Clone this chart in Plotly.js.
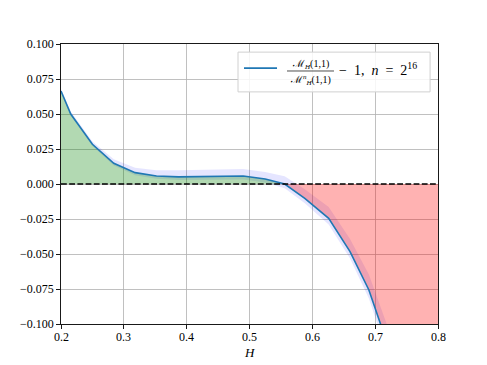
<!DOCTYPE html>
<html>
<head>
<meta charset="utf-8">
<script src="https://cdn.plot.ly/plotly-3.0.1.min.js"></script>
<style>
  html, body { margin: 0; padding: 0; background: #fff; }
  #plot { width: 487px; height: 365px; }
</style>
</head>
<body>
<div id="plot"></div>
<script>
// values
var H      = [0.2, 0.2155, 0.25, 0.284, 0.318, 0.352, 0.387, 0.421, 0.456, 0.49, 0.525, 0.556, 0.588, 0.626, 0.66, 0.69, 0.72, 0.76, 0.8];
var ratio  = [0.0664, 0.050, 0.0284, 0.0148, 0.0081, 0.0057, 0.0051, 0.0053, 0.0057, 0.0057, 0.0036, 0.0, -0.0102, -0.0245, -0.0483, -0.0757, -0.115, -0.17, -0.24];
var bandUp = [0.0015, 0.0018, 0.002, 0.0028, 0.0035, 0.0042, 0.0048, 0.005, 0.005, 0.005, 0.005, 0.0055, 0.0065, 0.008, 0.009, 0.011, 0.013, 0.016, 0.02];
var bandDn = [0.001, 0.001, 0.0012, 0.0015, 0.0018, 0.002, 0.0022, 0.0024, 0.0025, 0.0025, 0.0025, 0.003, 0.0035, 0.0045, 0.005, 0.006, 0.007, 0.009, 0.012];
var xTicks = [0.2, 0.3, 0.4, 0.5, 0.6, 0.7, 0.8];
var yTicks = [-0.1, -0.075, -0.05, -0.025, 0, 0.025, 0.05, 0.075, 0.1];

var serif = "Liberation Serif";

function initPlot(plot_element) {
	var lower = H.map(function (h, i) { return ratio[i] - bandDn[i]; });
	var upper = H.map(function (h, i) { return ratio[i] + bandUp[i]; });
	var pos = ratio.map(function (v) { return Math.max(v, 0); });
	var neg = ratio.map(function (v) { return Math.min(v, 0); });

	var traces = [
		{ x: H, y: lower, mode: 'lines', line: { width: 0, color: 'rgba(0,0,0,0)' }, showlegend: false, hoverinfo: 'skip' },
		{ x: H, y: upper, mode: 'lines', fill: 'tonexty', fillcolor: 'rgba(0,0,255,0.1)',
		  line: { width: 0, color: 'rgba(0,0,0,0)' }, showlegend: false, hoverinfo: 'skip' },
		// green where the curve is above zero, red where below
		{ x: H, y: pos, mode: 'lines', fill: 'tozeroy', fillcolor: 'rgba(0,128,0,0.3)',
		  line: { width: 0, color: 'rgba(0,0,0,0)' }, showlegend: false },
		{ x: H, y: neg, mode: 'lines', fill: 'tozeroy', fillcolor: 'rgba(255,0,0,0.3)',
		  line: { width: 0, color: 'rgba(0,0,0,0)' }, showlegend: false },
		{ x: H, y: ratio, mode: 'lines', line: { color: '#1f77b4', width: 1.6 }, showlegend: false },
		// dashed zero line
		{ x: [xTicks[0], xTicks[xTicks.length - 1]], y: [0, 0], mode: 'lines',
		  line: { color: '#000', width: 1.6, dash: '5.8px,2.4px' }, showlegend: false }
	];

	var axisCommon = {
		showline: true, linecolor: '#000', linewidth: 0.9, mirror: true,
		ticks: 'outside', ticklen: 4, tickwidth: 0.9, tickcolor: '#000',
		showgrid: true, gridcolor: '#b0b0b0', gridwidth: 0.8,
		zeroline: false,
		tickfont: { family: serif, size: 12, color: '#000' }
	};

	// hand-made legend box (stacked fraction is not possible in a plain legend entry)
	var shapes = [
		{ type: 'rect', xref: 'paper', yref: 'paper', x0: 0.4695, x1: 0.979, y0: 0.829, y1: 0.971,
		  line: { color: '#d0d0d0', width: 1 }, fillcolor: 'rgba(255,255,255,0.85)', layer: 'above' },
		{ type: 'line', xref: 'paper', yref: 'paper', x0: 0.4854, x1: 0.573, y0: 0.914, y1: 0.914,
		  line: { color: '#1f77b4', width: 1.6 }, layer: 'above' },
		{ type: 'line', xref: 'paper', yref: 'paper', x0: 0.5995, x1: 0.7241, y0: 0.9036, y1: 0.9036,
		  line: { color: '#000', width: 0.7 }, layer: 'above' }
	];

	var annotations = [
		{ xref: 'paper', yref: 'paper', x: 0.6618, y: 0.928, xanchor: 'center', yanchor: 'middle', showarrow: false,
		  text: 'ℳ<sub><i>H</i></sub>(1,1)', font: { family: serif, size: 10, color: '#000' } },
		{ xref: 'paper', yref: 'paper', x: 0.6618, y: 0.871, xanchor: 'center', yanchor: 'middle', showarrow: false,
		  text: 'ℳ<sup><i>n</i></sup><sub><i>H</i></sub>(1,1)', font: { family: serif, size: 10, color: '#000' } },
		{ xref: 'paper', yref: 'paper', x: 0.732, y: 0.909, xanchor: 'left', yanchor: 'middle', showarrow: false,
		  text: '−&nbsp;&nbsp;1,&nbsp;&nbsp;<i>n</i>&nbsp;&nbsp;=&nbsp;&nbsp;2<sup>16</sup>', font: { family: serif, size: 14, color: '#000' } },
		// x axis title
		{ xref: 'paper', yref: 'paper', x: 0.5, y: -0.1, xanchor: 'center', yanchor: 'middle', showarrow: false,
		  text: '<i>H</i>', font: { family: serif, size: 13, color: '#000' } }
	];

	// x tick labels, set a little closer to the axis than plotly puts them
	xTicks.forEach(function (t) {
		annotations.push({ xref: 'x', yref: 'paper', x: t, y: -0.046, xanchor: 'center', yanchor: 'middle',
			showarrow: false, text: t.toFixed(1), font: { family: serif, size: 12, color: '#000' } });
	});

	var layout = {
		width: 487,
		height: 365,
		margin: { l: 61, r: 49, t: 44, b: 41 },
		paper_bgcolor: '#fff',
		plot_bgcolor: '#fff',
		font: { family: serif, color: '#000' },
		showlegend: false,
		xaxis: Object.assign({}, axisCommon, {
			range: [0.2, 0.8], tickvals: xTicks, showticklabels: false
		}),
		yaxis: Object.assign({}, axisCommon, {
			range: [-0.1, 0.1], tickvals: yTicks, tickformat: '.3f'
		}),
		shapes: shapes,
		annotations: annotations
	};

	Plotly.newPlot(plot_element, traces, layout, { staticPlot: true });
}

initPlot('plot');
</script>
</body>
</html>
